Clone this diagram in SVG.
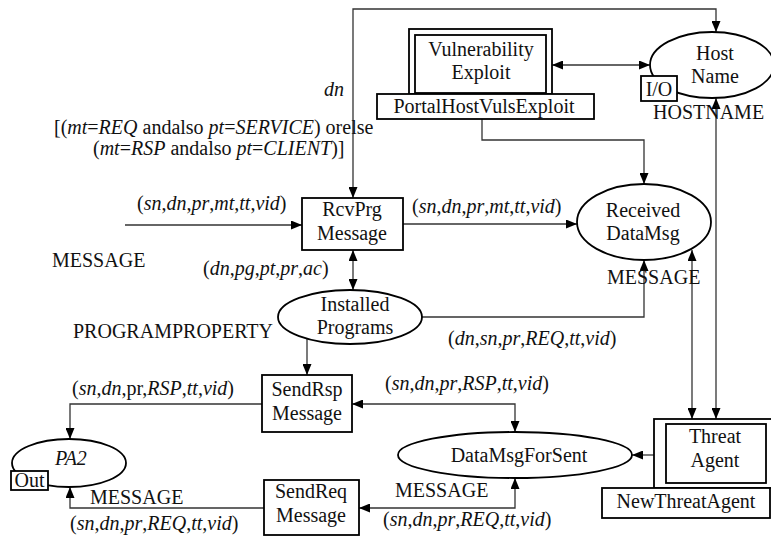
<svg xmlns="http://www.w3.org/2000/svg" width="771" height="539" viewBox="0 0 771 539">
<style>
text{font-family:"Liberation Serif","Times New Roman",serif;font-size:20px;fill:#111}
.c{text-anchor:middle}
.i{font-style:italic}
.n{fill:#fff;stroke:#000;stroke-width:1.8}
.e{stroke:#333;stroke-width:1.3;fill:none;marker-start:url(#a);marker-end:url(#a)}
.s{stroke:#333;stroke-width:1.3;fill:none;marker-end:url(#a)}
</style>
<defs>
<marker id="a" viewBox="0 0 11 9" refX="11" refY="4.5" markerWidth="11" markerHeight="9" markerUnits="userSpaceOnUse" orient="auto-start-reverse"><path d="M0,0 L11,4.5 L0,9 z" fill="#000"/></marker>
</defs>
<rect width="771" height="539" fill="#fff"/>
<g id="connectors">
<path class="e" d="M353,198 V9 H716 V32"/>
<path class="e" d="M552,65 H650"/>
<path class="e" d="M482,94 V140 H644 V184"/>
<path class="s" d="M125,225 H302"/>
<path class="s" d="M403,224 H577"/>
<path class="e" d="M353,250 V290"/>
<path class="s" d="M422,317 H644 V260"/>
<path class="s" d="M307,339 V375"/>
<path class="s" d="M262,404 H70 V439"/>
<path class="s" d="M264,508 H70 V487"/>
<path class="e" d="M352,404 H515 V432"/>
<path class="e" d="M359,508 H515 V478"/>
<path class="s" d="M654,455 H632"/>
<path class="e" d="M692,250 V419"/>
<path class="e" d="M716,98 V419"/>
</g>
<g id="labels">
<text x="324" y="96" class="i">dn</text>
<text x="54" y="134">[(<tspan class="i">mt</tspan>=<tspan class="i">REQ</tspan> andalso <tspan class="i">pt</tspan>=<tspan class="i">SERVICE</tspan>) orelse</text>
<text x="93" y="155">(<tspan class="i">mt</tspan>=<tspan class="i">RSP</tspan> andalso <tspan class="i">pt</tspan>=<tspan class="i">CLIENT</tspan>)]</text>
<text x="137" y="210">(<tspan class="i">sn</tspan>,<tspan class="i">dn</tspan>,<tspan class="i">pr</tspan>,<tspan class="i">mt</tspan>,<tspan class="i">tt</tspan>,<tspan class="i">vid</tspan>)</text>
<text x="412" y="213">(<tspan class="i">sn</tspan>,<tspan class="i">dn</tspan>,<tspan class="i">pr</tspan>,<tspan class="i">mt</tspan>,<tspan class="i">tt</tspan>,<tspan class="i">vid</tspan>)</text>
<text x="52" y="267">MESSAGE</text>
<text x="203" y="275">(<tspan class="i">dn</tspan>,<tspan class="i">pg</tspan>,<tspan class="i">pt</tspan>,<tspan class="i">pr</tspan>,<tspan class="i">ac</tspan>)</text>
<text x="73" y="338">PROGRAMPROPERTY</text>
<text x="607" y="284">MESSAGE</text>
<text x="448" y="345">(<tspan class="i">dn</tspan>,<tspan class="i">sn</tspan>,<tspan class="i">pr</tspan>,<tspan class="i">REQ</tspan>,<tspan class="i">tt</tspan>,<tspan class="i">vid</tspan>)</text>
<text x="653" y="119">HOSTNAME</text>
<text x="72" y="395">(<tspan class="i">sn</tspan>,<tspan class="i">dn</tspan>,pr,<tspan class="i">RSP</tspan>,<tspan class="i">tt</tspan>,<tspan class="i">vid</tspan>)</text>
<text x="385" y="390">(<tspan class="i">sn</tspan>,<tspan class="i">dn</tspan>,<tspan class="i">pr</tspan>,<tspan class="i">RSP</tspan>,<tspan class="i">tt</tspan>,<tspan class="i">vid</tspan>)</text>
<text x="90" y="504">MESSAGE</text>
<text x="70" y="530">(<tspan class="i">sn</tspan>,<tspan class="i">dn</tspan>,<tspan class="i">pr</tspan>,<tspan class="i">REQ</tspan>,<tspan class="i">tt</tspan>,<tspan class="i">vid</tspan>)</text>
<text x="395" y="497">MESSAGE</text>
<text x="383" y="526">(<tspan class="i">sn</tspan>,<tspan class="i">dn</tspan>,<tspan class="i">pr</tspan>,<tspan class="i">REQ</tspan>,<tspan class="i">tt</tspan>,<tspan class="i">vid</tspan>)</text>
</g>
<g id="vulnerability-exploit">
<rect class="n" x="409" y="29" width="143" height="65"/>
<rect class="n" x="415" y="35" width="131" height="58"/>
<text x="481" y="56" class="c">Vulnerability</text>
<text x="481" y="79" class="c">Exploit</text>
<rect class="n" x="377" y="94" width="217" height="25"/>
<text x="484" y="113" class="c">PortalHostVulsExploit</text>
</g>
<g id="host-name">
<ellipse class="n" cx="712" cy="65" rx="62" ry="33"/>
<text x="715" y="60" class="c">Host</text>
<text x="715" y="83" class="c">Name</text>
<rect class="n" x="641" y="76" width="36" height="25"/>
<text x="659" y="96" class="c">I/O</text>
</g>
<g id="rcvprg-message">
<rect class="n" x="302" y="198" width="101" height="52"/>
<text x="352" y="216" class="c">RcvPrg</text>
<text x="352" y="240" class="c">Message</text>
</g>
<g id="received-datamsg">
<ellipse class="n" cx="644" cy="222" rx="67" ry="38"/>
<text x="643" y="217" class="c">Received</text>
<text x="643" y="240" class="c">DataMsg</text>
</g>
<g id="installed-programs">
<ellipse class="n" cx="350" cy="317" rx="72" ry="27"/>
<text x="355" y="311" class="c">Installed</text>
<text x="355" y="334" class="c">Programs</text>
</g>
<g id="sendrsp-message">
<rect class="n" x="262" y="375" width="90" height="57"/>
<text x="307" y="396" class="c">SendRsp</text>
<text x="307" y="420" class="c">Message</text>
</g>
<g id="sendreq-message">
<rect class="n" x="264" y="480" width="95" height="55"/>
<text x="311" y="498" class="c">SendReq</text>
<text x="311" y="522" class="c">Message</text>
</g>
<g id="pa2">
<ellipse class="n" cx="69" cy="463" rx="57" ry="24"/>
<text x="55" y="465" class="i">PA2</text>
<rect class="n" x="11" y="471" width="37" height="19"/>
<text x="29.5" y="487" class="c">Out</text>
</g>
<g id="datamsgforsent">
<ellipse class="n" cx="515" cy="455" rx="117" ry="23"/>
<text x="519" y="462" class="c">DataMsgForSent</text>
</g>
<g id="threat-agent">
<rect class="n" x="654" y="419" width="124" height="69"/>
<rect class="n" x="666" y="424" width="100" height="59"/>
<text x="715" y="443" class="c">Threat</text>
<text x="715" y="467" class="c">Agent</text>
<rect class="n" x="602" y="488" width="168" height="30"/>
<text x="686" y="508" class="c">NewThreatAgent</text>
</g>
</svg>
